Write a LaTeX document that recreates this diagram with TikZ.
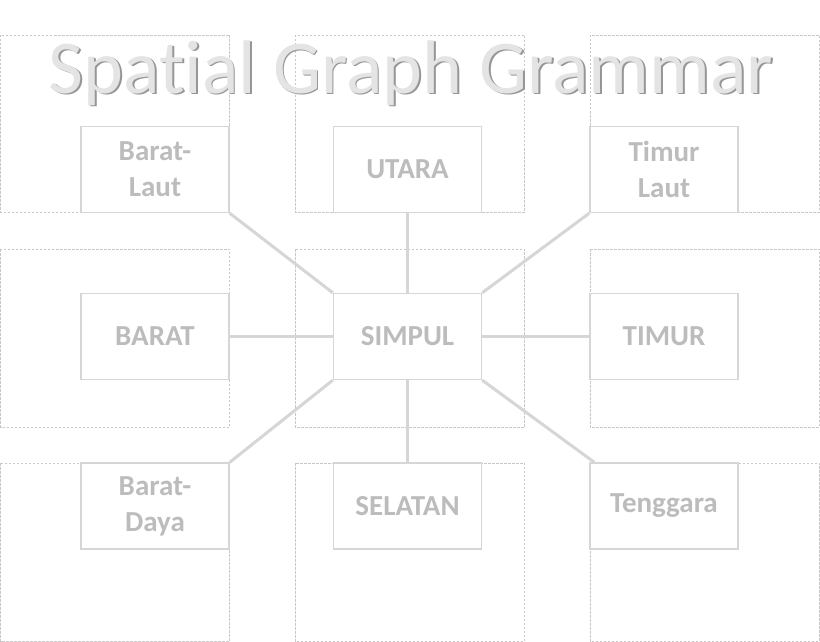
\documentclass[tikz,border=0pt]{standalone}
\usepackage{fontspec}
\setmainfont[Ligatures=NoCommon,RawFeature={-liga;-clig;-calt;-dlig}]{Carlito}
\usetikzlibrary{calc}
\definecolor{boxline}{RGB}{214,214,214}
\definecolor{frameline}{RGB}{200,200,200}
\definecolor{txtgray}{RGB}{188,188,188}
\definecolor{titlefill}{RGB}{228,228,228}
\definecolor{titleshade}{RGB}{150,150,150}
\newcommand{\embossed}[1]{\makebox[0pt][l]{\kern1.8pt\raisebox{-1.8pt}{\color{titleshade}#1}}#1}
\newcommand{\titlestr}{Spat\kern0pt ial Graph Grammar}
\begin{document}
\begin{tikzpicture}[x=1pt,y=-1pt,
  frame/.style={draw=frameline,line width=0.8pt,dash pattern=on 2.5pt off 1.5pt},
  dirbox/.style={draw=boxline,line width=1.3pt,fill=white,minimum width=148pt,minimum height=86pt,inner sep=0pt,
    font=\fontsize{29}{36}\selectfont\bfseries,text=txtgray,align=center},
  link/.style={draw=boxline,line width=3pt},
  titletext/.style={font=\fontsize{76}{80}\selectfont,anchor=base,inner sep=0pt,text=titlefill}]
\useasboundingbox[fill=white] (0,0) rectangle (820,642);
% dashed frames
\foreach \xa/\xb in {0.5/229.5,295/524.5,590/819.3}{
  \foreach \ya/\yb in {35/212,249/427,463/641.3}{
    \draw[frame] (\xa,\ya) rectangle (\xb,\yb);
  }}
% boxes
\node[dirbox] (nw) at (155,169.5) {Barat-\\Laut};
\node[dirbox] (n)  at (407.5,169.5) {UTARA};
\node[dirbox] (ne) at (664,169.5) {Timur\\Laut};
\node[dirbox] (w)  at (155,336.5) {BARAT};
\node[dirbox] (c)  at (407.5,336.5) {SIMPUL};
\node[dirbox] (e)  at (664,336.5) {TIMUR};
\node[dirbox] (sw) at (155,506) {Barat-\\Daya};
\node[dirbox] (s)  at (407.5,506) {SELATAN};
\node[dirbox] (se) at (664,506) {Tenggara};
% links
\draw[link] (c.north west) -- (nw.south east);
\draw[link] (c.north) -- (n.south);
\draw[link] (c.north east) -- (ne.south west);
\draw[link] (c.west) -- (w.east);
\draw[link] (c.east) -- (e.west);
\draw[link] (c.south west) -- (sw.north east);
\draw[link] (c.south) -- (s.north);
\draw[link] (c.south east) -- ($(se.north west)+(5,0)$);
% title
\node[titletext] (title) at (411,93) {\embossed{\titlestr}};
\end{tikzpicture}
\end{document}
